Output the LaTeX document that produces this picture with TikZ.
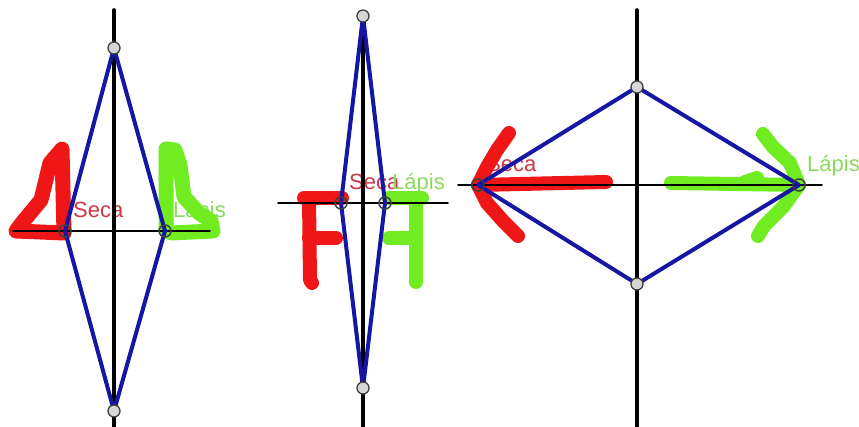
\documentclass[tikz,border=0pt]{standalone}
\usepackage{fontspec}
\setmainfont{Liberation Sans}
\definecolor{rhombblue}{RGB}{22,22,165}
\definecolor{secared}{RGB}{238,22,22}
\definecolor{lapisgreen}{RGB}{112,236,32}
\definecolor{secatext}{RGB}{205,55,70}
\definecolor{lapistext}{RGB}{140,218,92}
\definecolor{ptgrey}{RGB}{214,214,214}

\begin{document}
\begin{tikzpicture}[x=1pt,y=-1pt,line cap=round,line join=round,
  axis/.style={line width=3.6pt,black},
  hline/.style={line width=1.8pt,black},
  rhomb/.style={line width=4pt,rhombblue},
  secastroke/.style={line width=14pt,secared},
  lapisstroke/.style={line width=14pt,lapisgreen},
  vtx/.style={line width=1.3pt,black!75,fill=ptgrey},
  ring/.style={line width=1.5pt,black!75},
  lbl/.style={anchor=base west,inner sep=0pt,font=\fontsize{22}{26}\selectfont}]
  \useasboundingbox (0,0) rectangle (859,427);

  % first: tall rhombus
  \coordinate (T1) at (114,48);
  \coordinate (B1) at (114,411);
  \coordinate (L1) at (65,231);
  \coordinate (R1) at (165,231);
  \node[lbl,secatext] (seca1) at (73,218) {Seca};
  \node[lbl,lapistext] (lapis1) at (173,218) {Lápis};
  \draw[secastroke,line width=15pt] (16,231) -- (64,233) -- (62,149) -- (50,163) -- (41,200) -- (22,223) -- cycle;
  \draw[lapisstroke,line width=15pt] (171,233) -- (166,230) -- (166,149) -- (175,150) -- (180,165) -- (184,197) -- (199,213) -- (211,221) -- (213,231) -- cycle;
  \draw[axis] (114,10) -- (114,427);
  \draw[hline] (13,231) -- (210,231);
  \draw[rhomb] (T1) -- (R1) -- (B1) -- (L1) -- cycle;
  \draw[vtx] (T1) circle[radius=6];
  \draw[vtx] (B1) circle[radius=6];
  \draw[ring] (L1) circle[radius=6];
  \draw[ring] (R1) circle[radius=6];

  % second: thin rhombus, the two F
  \coordinate (T2) at (363,16);
  \coordinate (B2) at (363,388);
  \coordinate (L2) at (341,203);
  \coordinate (R2) at (385,203);
  \node[lbl,secatext] (seca2) at (349,190) {Seca};
  \node[lbl,lapistext] (lapis2) at (392,190) {Lápis};
  \draw[secastroke] (304,198) -- (342,198);
  \draw[secastroke] (309,198) -- (310,280) -- (312,283);
  \draw[secastroke] (309,238) -- (336,238);
  \draw[lapisstroke] (389,198) -- (422,198);
  \draw[lapisstroke] (416,198) -- (416,282);
  \draw[lapisstroke] (389,238) -- (412,238);
  \draw[axis] (T2) -- (363,427);
  \draw[hline] (278,203) -- (448,203);
  \draw[rhomb] (T2) -- (R2) -- (B2) -- (L2) -- cycle;
  \draw[vtx] (T2) circle[radius=6];
  \draw[vtx] (B2) circle[radius=6];
  \draw[ring] (L2) circle[radius=6];
  \draw[ring] (R2) circle[radius=6];

  % third: wide rhombus, the two arrows
  \coordinate (T3) at (637,87);
  \coordinate (B3) at (637,284);
  \coordinate (L3) at (478,185);
  \coordinate (R3) at (799,185);
  \node[lbl,secatext] (seca3) at (486,172) {Seca};
  \node[lbl,lapistext] (lapis3) at (807,172) {Lápis};
  \draw[secastroke] (L3) -- (606,182);
  \draw[secastroke] (L3) -- (487,167) -- (497,150) -- (509,133);
  \draw[secastroke] (L3) -- (487,203) -- (503,221) -- (518,236);
  \draw[lapisstroke] (671,183) -- (R3);
  \draw[lapisstroke] (745,182) -- (757,178);
  \draw[lapisstroke] (R3) -- (790,163) -- (773,147) -- (763,134);
  \draw[lapisstroke] (R3) -- (783,207) -- (764,226) -- (758,236);
  \draw[axis] (637,10) -- (637,427);
  \draw[hline] (458,185) -- (822,185);
  \draw[rhomb] (T3) -- (R3) -- (B3) -- (L3) -- cycle;
  \draw[vtx] (T3) circle[radius=6];
  \draw[vtx] (B3) circle[radius=6];
  \draw[ring] (L3) circle[radius=6];
  \draw[ring] (R3) circle[radius=6];
\end{tikzpicture}
\end{document}
